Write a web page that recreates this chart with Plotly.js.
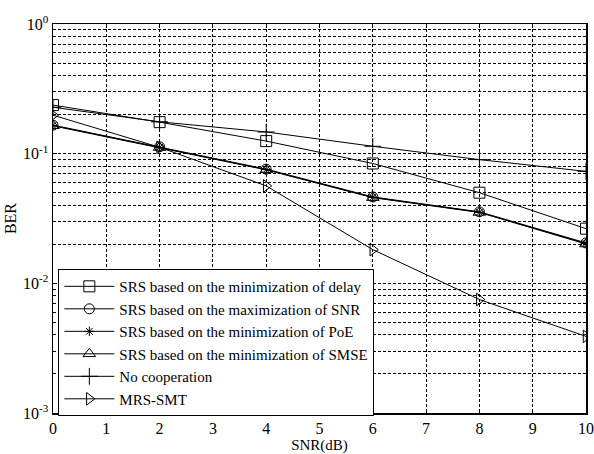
<!DOCTYPE html>
<html><head><meta charset="utf-8">
<script src="https://cdn.plot.ly/plotly-3.0.1.min.js"></script>
<style>body{margin:0;background:#fff}#c{width:594px;height:454px}</style>
</head><body><div id="c"></div>
<script>
const snr = [0, 2, 4, 6, 8, 10];
const berDelay = [0.237, 0.175, 0.125, 0.084, 0.050, 0.0264];
const berSNR = [0.166, 0.113, 0.076, 0.0464, 0.0356, 0.0205];
const berPoE = [0.165, 0.112, 0.0755, 0.046, 0.0354, 0.0203];
const berSMSE = [0.164, 0.1115, 0.075, 0.0458, 0.0352, 0.0201];
const berNoCoop = [0.228, 0.176, 0.147, 0.114, 0.090, 0.073];
const berMRS = [0.198, 0.112, 0.0564, 0.0182, 0.0075, 0.0039];
const names = ['SRS based on the minimization of delay','SRS based on the maximization of SNR','SRS based on the minimization of PoE','SRS based on the minimization of SMSE','No cooperation','MRS-SMT'];
const yTickVals = [0.001, 0.01, 0.1, 1];
const yTickText = ['10<sup>-3</sup>','10<sup>-2</sup>','10<sup>-1</sup>','10<sup>0</sup>'];
const xTickVals = [0,1,2,3,4,5,6,7,8,9,10];

const minorVals = [];
[0.001, 0.01, 0.1].forEach(d => { for (let k = 2; k <= 9; k++) minorVals.push(d * k); });

const series = [berDelay, berSNR, berPoE, berSMSE, berNoCoop, berMRS];
const symbols = ['square-open','circle-open','asterisk-open','triangle-up-open','cross-thin-open','triangle-right-open'];
const sizes = [11, 10, 8, 11, 12, 11];
const traces = series.map((y, i) => ({
  x: snr, y: y, name: names[i], type: 'scatter', mode: 'lines+markers',
  line: {color: 'black', width: 1},
  marker: {symbol: symbols[i], size: sizes[i], color: 'black', line: {color: 'black', width: 1}}
}));

const fam = 'Liberation Serif, Times New Roman, serif';
const gd = '3px,2px';
const layout = {
  width: 594, height: 454,
  margin: {l: 53, r: 8, t: 24, b: 41},
  paper_bgcolor: 'white', plot_bgcolor: 'white',
  font: {family: fam, color: 'black', size: 15},
  showlegend: true,
  legend: {x: 0.01, y: 0.37, xanchor: 'left', yanchor: 'top', bgcolor: 'white', bordercolor: 'black', borderwidth: 1, font: {family: fam, size: 15, color: 'black'}, tracegroupgap: 0, itemwidth: 50},
  xaxis: {
    range: [0, 10], tickvals: xTickVals, ticks: 'inside', ticklen: 4, tickcolor: 'black',
    showline: true, linecolor: 'black', linewidth: 1.5, mirror: 'allticks',
    showgrid: true, gridcolor: 'black', griddash: gd, gridwidth: 1, zeroline: false,
    title: {text: 'SNR(dB)', font: {family: fam, size: 15}, standoff: 4},
    tickfont: {family: fam, size: 16}
  },
  yaxis: {
    type: 'log', range: [-3, 0], tickvals: yTickVals, ticktext: yTickText,
    ticks: 'inside', ticklen: 4, tickcolor: 'black',
    showline: true, linecolor: 'black', linewidth: 1.5, mirror: 'allticks',
    showgrid: true, gridcolor: 'black', griddash: gd, gridwidth: 1, zeroline: false,
    minor: {tickmode: 'array', tickvals: minorVals, ticks: 'inside', ticklen: 2, tickcolor: 'black', showgrid: true, gridcolor: 'black', griddash: gd, gridwidth: 1},
    title: {text: 'BER', font: {family: fam, size: 16}, standoff: 2},
    tickfont: {family: fam, size: 16}
  }
};
Plotly.newPlot('c', traces, layout, {staticPlot: true});
</script></body></html>
